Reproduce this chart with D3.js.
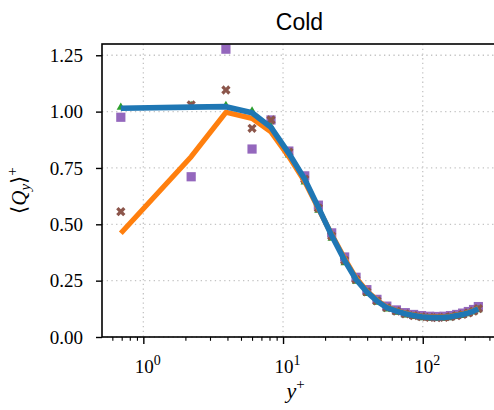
<!DOCTYPE html>
<html>
<head>
<meta charset="utf-8">
<script src="https://cdn.jsdelivr.net/npm/d3@7"></script>
<style>
  html, body { margin: 0; padding: 0; background: #fff; }
  svg { display: block; }
</style>
</head>
<body>
<div id="chart"></div>
<script>
// Wall-normal positions (y+) shared by every series
const yPlus = [0.69, 2.2, 3.9, 6.0, 8.2, 11.0, 14.3, 17.9, 22.3, 27.6, 33.3, 39.8, 47.0, 55.3,
  64.8, 75, 86, 98, 112, 126, 142, 158, 175, 193, 212, 231, 250];

// Line series
const blueLine = [1.015, 1.02, 1.022, 0.995, 0.93, 0.815, 0.70, 0.575, 0.45, 0.34, 0.255, 0.20,
  0.16, 0.13, 0.115, 0.103, 0.095, 0.09, 0.087, 0.086, 0.087, 0.09, 0.095, 0.10, 0.107, 0.115, 0.125];
const orangeLine = [0.46, 0.80, 0.997, 0.97, 0.91, 0.80, 0.69, 0.57, 0.455, 0.348, 0.262, 0.204,
  0.164, 0.133, 0.117, 0.105, 0.097, 0.092, 0.089, 0.088, 0.089, 0.092, 0.097, 0.102, 0.109, 0.117, 0.127];

// Marker series
const greenTri = [1.022, 1.03, 1.03, 1.005, 0.935, 0.81, 0.69, 0.565, 0.44, 0.332, 0.25, 0.195,
  0.156, 0.127, 0.112, 0.1, 0.093, 0.088, 0.085, 0.084, 0.085, 0.088, 0.093, 0.098, 0.105, 0.113, 0.123];
const brownX = [0.556, 1.03, 1.096, 0.926, 0.963, 0.82, 0.70, 0.572, 0.448, 0.34, 0.255, 0.2,
  0.16, 0.13, 0.115, 0.103, 0.095, 0.09, 0.087, 0.086, 0.087, 0.09, 0.095, 0.1, 0.107, 0.115, 0.126];
const purpleSq = [0.975, 0.711, 1.277, 0.834, 0.963, 0.825, 0.715, 0.585, 0.462, 0.355, 0.265, 0.21,
  0.167, 0.137, 0.12, 0.108, 0.1, 0.095, 0.092, 0.091, 0.092, 0.095, 0.1, 0.106, 0.113, 0.122, 0.135];

// Axis ticks
const yTicks = [0, 0.25, 0.5, 0.75, 1.0, 1.25];
const xMajor = [1, 10, 100];
const xMinor = [0.6, 0.7, 0.8, 0.9, 2, 3, 4, 5, 6, 7, 8, 9, 20, 30, 40, 50, 60, 70, 80, 90, 200, 300];

const title = "Cold";

const W = 494, H = 410;
const plotL = 102, plotR = 497, plotT = 44, plotB = 337;
const serif = "Liberation Serif";

const svg = d3.select("#chart").append("svg")
  .attr("width", W).attr("height", H);

const x = d3.scaleLog().domain([0.506, 340]).range([plotL, plotR]);
const y = d3.scaleLinear().domain([0, 1.3]).range([plotB, plotT]);

// Dotted grid
const grid = svg.append("g").attr("stroke", "#c4c4c4").attr("stroke-width", 1.3)
  .attr("stroke-dasharray", "1.3,3.4").attr("fill", "none");
grid.selectAll("line.gy").data(yTicks).join("line").attr("class", "gy")
  .attr("x1", plotL).attr("x2", plotR)
  .attr("y1", d => y(d)).attr("y2", d => y(d));
grid.selectAll("line.gx").data(xMajor).join("line").attr("class", "gx")
  .attr("x1", d => x(d)).attr("x2", d => x(d))
  .attr("y1", plotT).attr("y2", plotB);

// Markers
const rows = yPlus.map((v, i) => ({ x: v, sq: purpleSq[i], tri: greenTri[i], xm: brownX[i] }));

svg.append("g").selectAll("rect").data(rows).join("rect")
  .attr("x", d => x(d.x) - 4.6).attr("y", d => y(d.sq) - 4.6)
  .attr("width", 9.2).attr("height", 9.2)
  .attr("fill", "#9467bd");

const triPath = d3.symbol().type(d3.symbolTriangle).size(30)();
svg.append("g").selectAll("path").data(rows).join("path")
  .attr("d", triPath)
  .attr("transform", d => `translate(${x(d.x)},${y(d.tri) + 0.6})`)
  .attr("fill", "#2ca02c");

const crossPath = d3.symbol().type(d3.symbolCross).size(54)();
svg.append("g").selectAll("path").data(rows).join("path")
  .attr("d", crossPath)
  .attr("transform", d => `translate(${x(d.x)},${y(d.xm)}) rotate(45)`)
  .attr("fill", "#8c564b");

// Lines
const line = d3.line().x(d => x(d[0])).y(d => y(d[1]));
svg.append("path")
  .datum(yPlus.map((v, i) => [v, orangeLine[i]]))
  .attr("d", line).attr("fill", "none")
  .attr("stroke", "#ff7f0e").attr("stroke-width", 5.2)
  .attr("stroke-linejoin", "round");
svg.append("path")
  .datum(yPlus.map((v, i) => [v, blueLine[i]]))
  .attr("d", line).attr("fill", "none")
  .attr("stroke", "#1f77b4").attr("stroke-width", 5.6)
  .attr("stroke-linejoin", "round");

// Y axis
const gy = svg.append("g").attr("transform", `translate(${plotL},0)`)
  .call(d3.axisLeft(y).tickValues(yTicks).tickFormat(d3.format(".2f")).tickSize(6).tickPadding(13))
  .attr("font-family", serif).attr("font-size", 19);
gy.select(".domain").remove();
gy.selectAll(".tick line").attr("stroke", "#000").attr("stroke-width", 1.4);
gy.selectAll(".tick text").attr("fill", "#000").attr("dy", "0.33em");

// X axis: major ticks with power-of-ten labels
const gx = svg.append("g").attr("transform", `translate(0,${plotB})`)
  .call(d3.axisBottom(x).tickValues(xMajor).tickFormat(() => "").tickSize(7))
  .attr("font-family", serif).attr("font-size", 19);
gx.select(".domain").remove();
gx.selectAll(".tick line").attr("stroke", "#000").attr("stroke-width", 1.4);
gx.selectAll(".tick text").each(function(d) {
  const t = d3.select(this).attr("fill", "#000").attr("y", 36).attr("dy", 0).attr("dx", 4);
  t.text(null);
  t.append("tspan").text("10");
  t.append("tspan").attr("font-size", 14).attr("dy", -8).text(Math.round(Math.log10(d)));
});

// X axis: minor ticks
const gxm = svg.append("g").attr("transform", `translate(0,${plotB})`)
  .call(d3.axisBottom(x).tickValues(xMinor).tickFormat(() => "").tickSize(3.8));
gxm.select(".domain").remove();
gxm.selectAll(".tick line").attr("stroke", "#000").attr("stroke-width", 1.1);

// Frame
svg.append("rect")
  .attr("x", plotL).attr("y", plotT)
  .attr("width", plotR - plotL).attr("height", plotB - plotT)
  .attr("fill", "none").attr("stroke", "#000").attr("stroke-width", 1.6);

// Title
svg.append("text")
  .attr("x", (plotL + plotR) / 2).attr("y", 29.5)
  .attr("text-anchor", "middle")
  .attr("font-family", "Liberation Sans")
  .attr("font-size", 23)
  .text(title);

// X label: y+
const xl = svg.append("text")
  .attr("x", (plotL + plotR) / 2 - 4).attr("y", 398)
  .attr("text-anchor", "middle")
  .attr("font-family", serif).attr("font-size", 22);
xl.append("tspan").attr("font-style", "italic").text("y");
xl.append("tspan").attr("font-size", 15).attr("dy", -9).text("+");

// Y label: <Q_y>+
const yl = svg.append("text")
  .attr("transform", `translate(26,${(plotT + plotB) / 2}) rotate(-90)`)
  .attr("text-anchor", "middle")
  .attr("font-family", serif).attr("font-size", 21);
yl.append("tspan").text("\u27E8");
yl.append("tspan").attr("font-style", "italic").text("Q");
yl.append("tspan").attr("font-style", "italic").attr("font-size", 15).attr("dy", 4).text("y");
yl.append("tspan").attr("dy", -4).text("\u27E9");
yl.append("tspan").attr("font-size", 15).attr("dy", -9).text("+");
</script>
</body>
</html>
